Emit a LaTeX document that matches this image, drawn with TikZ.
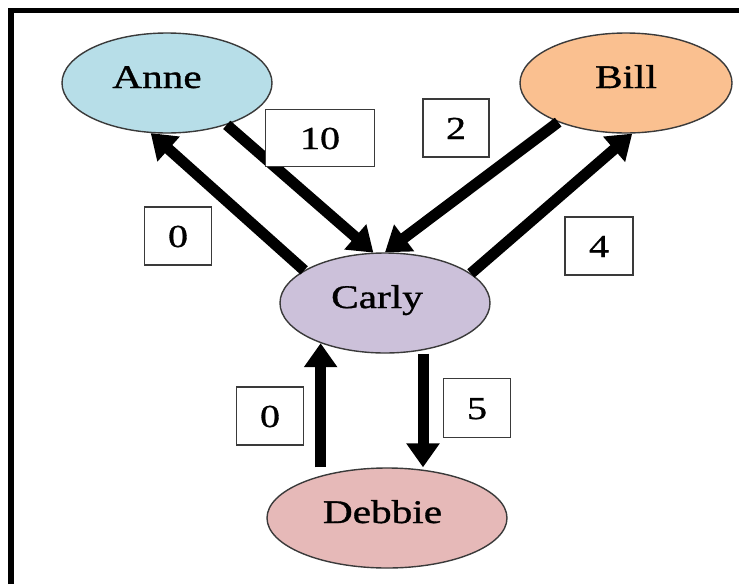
\documentclass[tikz,border=0pt]{standalone}
\usepackage{fontspec}
\newfontfamily\widefont[FakeStretch=1.25,FakeBold=1]{Liberation Serif}
\usetikzlibrary{arrows.meta,shapes.geometric,calc}

\definecolor{anneblue}{HTML}{B7DEE8}
\definecolor{billorange}{HTML}{FAC090}
\definecolor{carlypurple}{HTML}{CCC1DA}
\definecolor{debbiered}{HTML}{E6B9B8}
\definecolor{edgegray}{HTML}{3A3A3A}

\tikzset{
  person/.style={ellipse, draw=edgegray, line width=1.4pt, inner sep=0pt,
    minimum width=210pt, minimum height=100pt,
    font=\widefont\fontsize{33}{38}\selectfont,
    text height=22pt, text depth=12pt},
  weight/.style={rectangle, draw=edgegray, line width=1.4pt, fill=white,
    inner sep=0pt, minimum width=67pt, minimum height=58pt,
    font=\widefont\fontsize{32}{36}\selectfont,
    text height=22pt, text depth=0pt},
  flow/.style={line width=11pt, draw=black,
    -{Triangle[length=24pt,width=32pt]}}
}

\begin{document}
\begin{tikzpicture}[x=1pt,y=-1pt]
  \useasboundingbox (0,0) rectangle (739,584);
  \fill[white] (0,0) rectangle (739,584);

  % frame: left and top edges
  \draw[line width=5.5pt] (11,584) -- (11,10.5) -- (739,10.5);

  % people (a trailing kern nudges each name a little to the left)
  \node[person, fill=anneblue]    (anne)   at (167,83)  {Anne\kern20pt};
  \node[person, fill=billorange, minimum width=212pt] (bill) at (626,83) {Bill};
  \node[person, fill=carlypurple] (carly)  at (385,303) {Carly\kern16pt};
  \node[person, fill=debbiered, minimum width=240pt] (debbie) at (387,518) {Debbie\kern9pt};

  % flows between people
  \draw[flow] (carly.158) -- (anne.252);
  \draw[flow] (anne.-35) -- (carly.103);
  \draw[flow] (bill.210) -- (carly.90);
  \draw[flow] (carly.19) -- (bill.-83);
  \draw[flow] (carly.212 |- debbie.north) -- (carly.212);
  \coordinate (down) at ([xshift=38pt]carly.south);
  \draw[flow] (down) -- (down |- debbie.north);

  % weights
  \node[weight, minimum width=109pt, minimum height=57pt] (w10) at (320,138) {10};
  \node[weight, minimum width=66pt] (w2)  at (456,128) {2};
  \node[weight, minimum width=68pt] (w4)  at (599,246) {4};
  \node[weight] (w0a) at (178,236) {0};
  \node[weight] (w0b) at (270,416) {0};
  \node[weight, minimum height=59pt] (w5)  at (477,408) {5};
\end{tikzpicture}
\end{document}
